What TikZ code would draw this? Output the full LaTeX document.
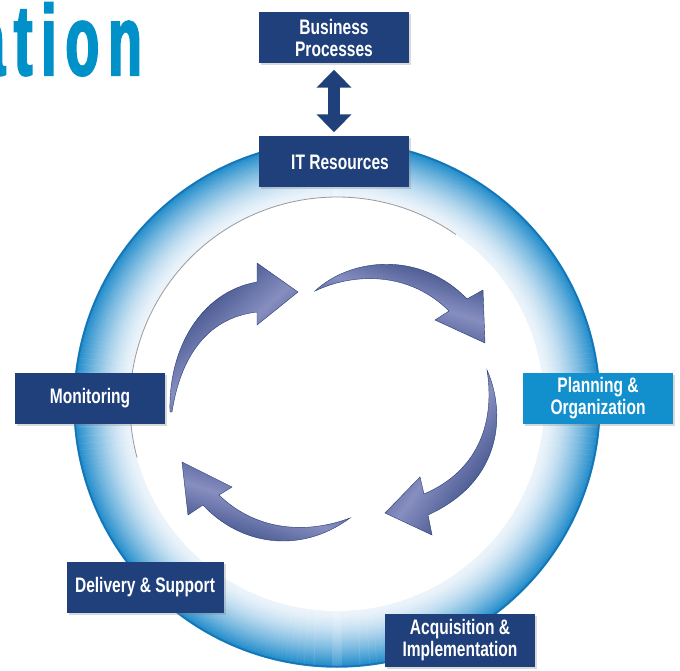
\documentclass[tikz,border=0pt]{standalone}
\usepackage{fontspec}
\usetikzlibrary{arrows.meta,shadows}
\newfontfamily\boxfont[FakeStretch=0.74]{Liberation Sans}
\newfontfamily\titlefont[FakeStretch=0.55,FakeBold=2,LetterSpace=9]{Liberation Sans}
\definecolor{navy}{RGB}{31,64,122}
\definecolor{skyblue}{RGB}{18,143,205}
\definecolor{titleblue}{RGB}{0,145,200}
\definecolor{ringpale}{RGB}{236,244,251}
\definecolor{ringblue}{RGB}{28,138,202}
\definecolor{ringdark}{RGB}{22,116,180}
\definecolor{arrowdark}{RGB}{38,60,118}
\definecolor{arrowlight}{RGB}{135,142,192}
\begin{document}
\begin{tikzpicture}[x=1pt,y=-1pt,
	box/.style={fill=navy,text=white,font=\boxfont\bfseries\fontsize{21}{21.5}\selectfont,
	align=center,minimum width=150pt,minimum height=51pt,inner sep=2pt,
	drop shadow={shadow xshift=2pt,shadow yshift=-2pt,opacity=.3}},
	swirl/.style={left color=arrowdark,right color=arrowdark,middle color=arrowlight,
	draw=arrowdark,line width=.4pt}]
\useasboundingbox (0,0) rectangle (680,671);
\node[anchor=base east,inner sep=0pt,text=titleblue,
	font=\titlefont\bfseries\fontsize{100}{100}\selectfont] (title) at (142,75) {ation};
\coordinate (c) at (337,404);
\foreach \i in {0,...,56}{
	\pgfmathtruncatemacro\p{100*(\i/56)^1.5}
	\draw[line width=1.4pt,ringblue!\p!ringpale] (c) circle[radius=207+\i];
}
\draw[ringdark,line width=1.5pt] (c) circle[radius=262.5];
\fill[white] (c) circle[radius=207];
\draw[gray!80,line width=.8pt] (c) ++(165:207) arc[start angle=165,end angle=305,radius=207];
\shade[swirl,shading angle=43] (170,412) .. controls (168,350) and (200,292) .. (257,282)
	-- (257,263) -- (298,292) -- (257,325) -- (257,312)
	.. controls (205,318) and (180,360) .. (172,412) -- cycle;
\shade[swirl,shading angle=-17] (315,291) .. controls (350,258) and (420,250) .. (467,299)
	-- (483,290) -- (485,343) -- (435,320) -- (449,311)
	.. controls (410,272) and (355,272) .. (315,291) -- cycle;
\shade[swirl,shading angle=54] (487,370) .. controls (505,410) and (505,480) .. (428,515)
	-- (432,535) -- (385,513) -- (420,477) -- (424,494)
	.. controls (480,470) and (495,420) .. (487,370) -- cycle;
\shade[swirl,shading angle=-18] (350,518) .. controls (300,555) and (240,545) .. (203,505)
	-- (188,515) -- (182,462) -- (232,487) -- (219,495)
	.. controls (255,530) and (305,535) .. (350,518) -- cycle;
\node[box] (bp) at (334,38) {Business\\Processes};
\node[box] (itr) at (334,162) {\hspace*{12pt}IT Resources};
\node[box] (mon) at (90,398) {Monitoring};
\node[box,fill=skyblue] (plan) at (598,398) {Planning \&\\Organization};
\node[box,minimum width=157pt] (del) at (145,587) {Delivery \& Support};
\node[box,minimum height=53pt] (acq) at (460,640) {Acquisition \&\\Implementation};
\draw[navy,line width=12pt,shorten <=6pt,shorten >=4pt,
	{Triangle[length=18pt,width=34pt]}-{Triangle[length=18pt,width=34pt]}] (bp) -- (itr);
\end{tikzpicture}
\end{document}
